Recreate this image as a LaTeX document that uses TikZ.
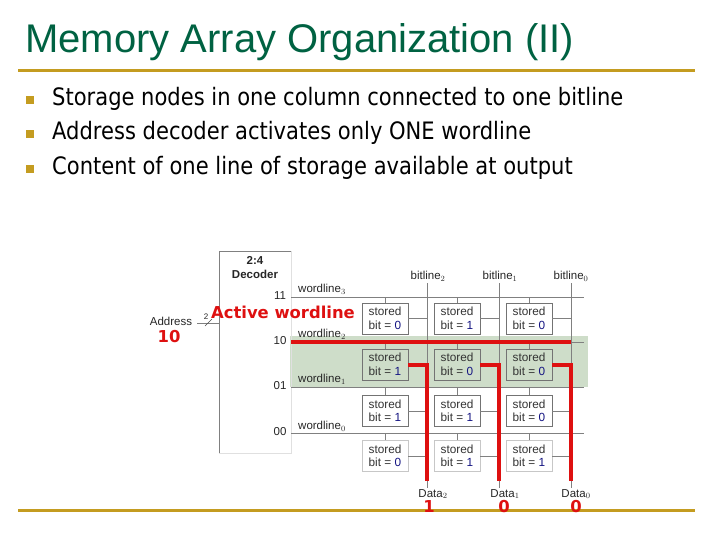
\documentclass[tikz,border=0pt]{standalone}
\usepackage{fontspec}
\setmainfont{Liberation Sans}
\newfontfamily\bodyfont[FakeStretch=0.877]{DejaVu Sans}
\newfontfamily\redfont{DejaVu Sans}
\usetikzlibrary{calc}
\definecolor{titlegreen}{RGB}{0,98,66}
\definecolor{rulegold}{RGB}{196,156,32}
\definecolor{bandgreen}{RGB}{206,221,201}
\definecolor{bitblue}{RGB}{20,20,130}
\definecolor{activered}{RGB}{222,16,16}
\tikzset{
  rulerline/.style={line width=3pt,color=rulegold},
  bullet/.style={fill=rulegold,minimum size=8pt,inner sep=0pt},
  bodytext/.style={anchor=west,inner sep=0pt,font=\bodyfont\fontsize{24}{28}\selectfont},
  gridline/.style={line width=0.8pt,color=black!50},
  smalltext/.style={inner sep=0pt,font=\fontsize{11.5}{13.5}\selectfont,text=black!85},
  celltext/.style={draw=black!55,line width=0.8pt,minimum width=46pt,minimum height=31pt,inner sep=0pt,
    align=left,font=\fontsize{11.8}{13.5}\selectfont,text=black!80},
  redtext/.style={inner sep=0pt,text=activered,font=\redfont\bfseries\fontsize{16.4}{18}\selectfont},
  redline/.style={line width=4pt,color=activered}
}
\newcommand{\BitCell}[4]{\node[celltext,#4] (#1) at (#2) {stored\\bit = \textcolor{bitblue}{#3}};}
\begin{document}
\begin{tikzpicture}[x=1pt,y=-1pt]
\useasboundingbox (0,0) rectangle (720,540);

\node[anchor=west,inner sep=0pt,text=titlegreen,font=\fontsize{40}{46}\selectfont] (title) at (25,42) {Memory Array Organization (II)};
\draw[rulerline] (18,70.5) -- (695,70.5);
\draw[rulerline] (18,510.5) -- (695,510.5);

\foreach \y/\txt in {99/Storage nodes in one column connected to one bitline,
  133/Address decoder activates only ONE wordline,
  168/Content of one line of storage available at output}{
  \node[bullet] at (30,\y+1) {};
  \node[bodytext] at (52,\y) {\txt};
}

% band behind the active rows
\fill[bandgreen] (290,336) rectangle (588,387);

% decoder
\draw[gridline] (291,251) -- (219,251) -- (219,453);
\draw[line width=0.6pt,black!12] (291,251) -- (291,453) -- (219,453);
\node[smalltext,font=\bfseries\fontsize{11.5}{13.5}\selectfont] (decoder2) at (255,260) {2:4};
\node[smalltext,font=\bfseries\fontsize{11.5}{13.5}\selectfont] (decoder) at (255,274) {Decoder};

% address bus
\node[smalltext] (address) at (171,321) {Address};
\coordinate (busin) at (197,323);
\coordinate (busout) at (219,323);
\draw[gridline] (busin) -- (busout);
\draw[line width=0.6pt,black!70] (205,326) -- (212,319);
\node[smalltext,font=\fontsize{8}{9}\selectfont] (bustwo) at (206,317) {2};

% wordlines
\foreach \n/\y/\code/\wx/\wy in {3/297/11/322/289,2/342/10/322/334,1/387/01/322/379,0/433/00/322/426}{
  \coordinate (wl\n a) at (291,\y);
  \coordinate (wl\n b) at (584,\y);
  \draw[gridline] (wl\n a) -- (wl\n b);
  \node[smalltext] (code\n) at (280,\y-1) {\code};
  \node[smalltext] (wlabel\n) at (\wx,\wy) {wordline$_{\n}$};
}

% bitlines
\foreach \n/\x/\lx in {2/427/428,1/499/500,0/571/571}{
  \coordinate (bl\n a) at (\x,283);
  \coordinate (bl\n b) at (\x,488);
  \draw[gridline] (bl\n a) -- (bl\n b);
  \node[smalltext] (blabel\n) at (\lx,276) {bitline$_{\n}$};
}

% storage cells, row by row
\foreach \r/\y/\a/\b/\c/\f/\d in {3/318.5/0/1/0/white/55,2/364.5/1/0/0/bandgreen/55,1/411/1/1/0/white/55,0/456/0/1/1/white/22}{
  \BitCell{c2r\r}{385,\y}{\a}{fill=\f,draw=black!\d}
  \BitCell{c1r\r}{457,\y}{\b}{fill=\f,draw=black!\d}
  \BitCell{c0r\r}{529,\y}{\c}{fill=\f,draw=black!\d}
  \foreach \n in {2,1,0}{
    \draw[gridline] (c\n r\r.north) -- (c\n r\r.north |- wl\r a);
    \draw[gridline] (c\n r\r.east) -- (c\n r\r.east -| bl\n a);
  }
}

% active wordline and the outputs it drives
\coordinate (activeend) at (571,342);
\draw[redline] (wl2a) -- (activeend);
\foreach \n in {2,1,0}{
  \coordinate (out\n) at ($(bl\n b)+(0,-7)$);
  \draw[redline,line join=miter] (c\n r2.east) -- (c\n r2.east -| bl\n a) -- (out\n);
}

\node[redtext] (activelabel) at (283,312) {Active wordline};
\node[redtext] (addressval) at (169,337) {10};
\foreach \n/\lx/\vx in {2/433/429,1/505/504,0/576/576}{
  \node[smalltext] (data\n) at (\lx,494) {Data$_{\n}$};
  \node[redtext] (val\n) at (\vx,507) {\ifnum\n=2 1\else 0\fi};
}
\end{tikzpicture}
\end{document}
